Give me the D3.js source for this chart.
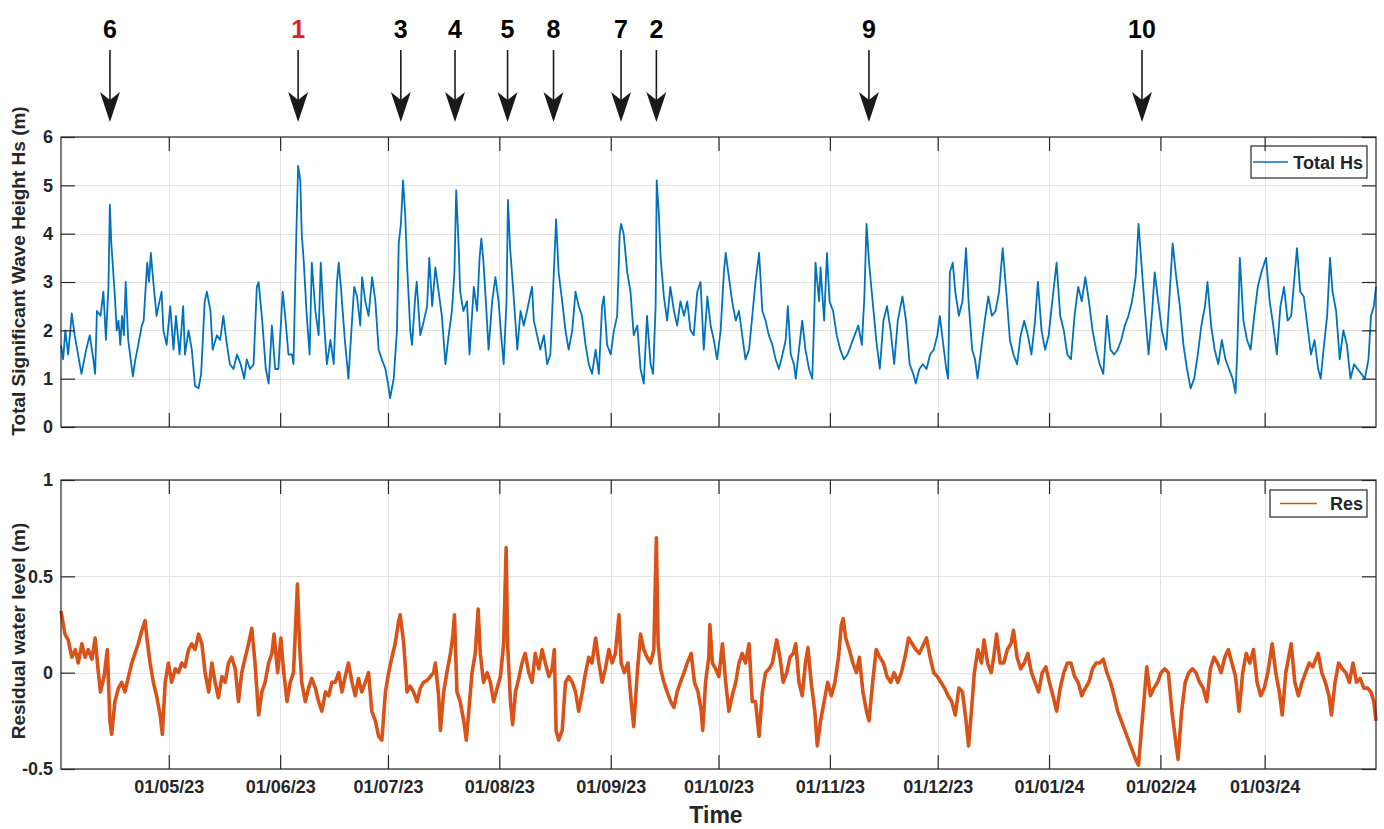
<!DOCTYPE html>
<html>
<head>
<meta charset="utf-8">
<script src="https://cdn.jsdelivr.net/npm/d3@7"></script>
<style>
  html, body { margin: 0; padding: 0; background: #fff; }
  svg { display: block; font-family: 'Liberation Sans', Arial, Helvetica, sans-serif; }
</style>
</head>
<body>
<svg id="chart" width="1384" height="829"></svg>
<script>
// time axis: 1 Apr 2023 -> 1 Apr 2024, points given as day offsets from start
const startDate = new Date(Date.UTC(2023, 3, 1));
const endDate = new Date(Date.UTC(2024, 3, 1));
const monthTicks = ['2023-05-01', '2023-06-01', '2023-07-01', '2023-08-01', '2023-09-01', '2023-10-01',
  '2023-11-01', '2023-12-01', '2024-01-01', '2024-02-01', '2024-03-01'];
const hsTicks = [0, 1, 2, 3, 4, 5, 6];
const resTicks = [-0.5, 0, 0.5, 1];

// storm events marked with arrows
const eventLabels = ['6', '1', '3', '4', '5', '8', '7', '2', '9', '10'];
const eventDates = ['2023-04-14T15:00Z', '2023-06-06T00:00Z', '2023-07-04T14:00Z', '2023-07-19T16:00Z',
  '2023-08-03T07:00Z', '2023-08-16T02:00Z', '2023-09-03T21:00Z', '2023-09-13T17:00Z',
  '2023-11-11T21:00Z', '2024-01-26T21:00Z'];
const highlightEvent = '1';

// [day offset, Hs (m)]
const hsPoints = [
  [0,1.7],[0.6,1.4],[1.2,2.0],[2,1.5],[3,2.35],[3.8,1.9],[4.5,1.6],[5.7,1.1],[7,1.6],[8,1.9],[9,1.4],[9.5,1.1],
  [10,2.4],[11,2.3],[11.8,2.8],[12.5,1.8],[13.2,2.9],[13.6,4.6],[14,3.8],[15,2.7],[15.5,2.0],[16,2.2],[16.5,1.7],
  [17,2.3],[17.5,1.9],[18,3.0],[18.7,1.8],[19.4,1.4],[20,1.05],[20.7,1.4],[21.5,1.7],[22.5,2.1],[23,2.2],[24,3.4],
  [24.5,3.0],[25,3.6],[25.7,3.0],[26.6,2.3],[27.4,2.6],[28,2.8],[28.5,2.0],[29.4,1.7],[30.4,2.5],[31.3,1.6],[32,2.3],
  [33,1.5],[34,2.5],[34.5,1.5],[35.5,2.0],[36.4,1.6],[37.3,0.85],[38.3,0.8],[39,1.1],[40,2.6],[40.6,2.8],[41.6,2.4],
  [42.2,1.6],[43.4,1.9],[44.3,1.8],[45.2,2.3],[46,1.8],[47,1.3],[48,1.2],[49,1.5],[50,1.3],[51,1.0],[51.7,1.4],
  [52.6,1.2],[53.6,1.3],[54.5,2.9],[55,3.0],[56,2.2],[57,1.2],[57.8,0.9],[58.7,2.1],[59.6,1.2],[60.5,1.2],[61.7,2.8],
  [62.4,2.3],[63.3,1.5],[64.3,1.5],[64.7,1.3],[65.5,4.0],[66,5.4],[66.6,5.1],[67,4.0],[67.5,3.5],[68.4,2.3],[69.2,1.5],
  [69.8,3.4],[70.8,2.4],[71.7,1.9],[72.3,3.4],[73,2.4],[74,1.3],[75,1.8],[75.9,1.3],[76.8,3.0],[77.3,3.4],[78,2.8],
  [79,1.8],[80,1.0],[81,2.2],[81.6,2.9],[82.4,2.7],[83.3,2.1],[83.8,3.1],[84.7,2.6],[85.6,2.3],[86.6,3.1],[87.5,2.6],
  [88.4,1.6],[89.3,1.4],[90.3,1.2],[91,0.9],[91.6,0.6],[92.6,1.0],[93.5,2.0],[94,3.8],[94.6,4.2],[95.2,5.1],[95.8,4.4],
  [96.3,3.4],[97.2,2.0],[97.7,1.7],[98.6,2.7],[99,3.0],[100,1.9],[101,2.2],[101.9,2.5],[102.5,3.5],[103.3,2.5],
  [104.2,3.3],[105.1,2.8],[106,2.3],[107,1.3],[107.9,1.9],[108.8,2.4],[109.5,3.2],[110,4.9],[110.7,3.7],[111.1,2.8],
  [112,2.4],[113,2.6],[113.7,1.5],[114.9,2.9],[115.8,2.4],[116.5,3.5],[117,3.9],[117.6,3.4],[118.4,2.4],[119,1.6],
  [120,2.6],[120.9,3.1],[121.8,2.6],[122.5,1.9],[123.2,1.3],[124,2.6],[124.4,4.7],[125,3.7],[126,2.7],[127,1.6],
  [127.9,2.4],[128.8,2.1],[129.7,2.4],[131.1,2.9],[131.6,2.2],[132.5,1.9],[133.4,1.6],[134.4,1.9],[135.3,1.3],
  [136.2,1.5],[137,2.9],[137.8,4.3],[138.5,3.2],[139.5,2.6],[140.4,2.0],[141.3,1.6],[142.3,2.0],[143.2,2.8],[144.1,2.5],
  [145,2.3],[146,1.7],[146.9,1.3],[147.8,1.1],[148.8,1.6],[149.7,1.1],[150.6,2.5],[151.1,2.7],[152,1.7],[153,1.5],
  [153.9,2.0],[154.8,2.3],[155.5,4.0],[155.9,4.2],[156.6,4.0],[157.6,3.2],[158.5,2.8],[159.4,1.9],[160.4,2.1],[161.3,1.2],
  [162.2,0.9],[163.1,2.3],[164.1,1.3],[164.8,1.1],[165.5,2.5],[165.8,5.1],[166.4,4.4],[166.9,3.5],[167.8,2.7],[168.7,2.2],
  [169.6,2.9],[170.6,2.4],[171.5,2.1],[172.4,2.6],[173.4,2.3],[174.3,2.6],[175.2,2.0],[176.1,1.9],[177.1,2.8],[178,3.0],
  [178.9,1.6],[179.9,2.7],[180.8,2.1],[181.7,1.8],[182.6,1.4],[183.6,2.0],[184.5,3.2],[185,3.6],[185.9,3.1],[186.8,2.6],
  [187.8,2.2],[188.7,2.4],[189.6,1.9],[190.5,1.4],[191.5,1.6],[192.4,2.3],[193.3,3.0],[194.3,3.6],[195.2,2.4],[196.1,2.2],
  [197,1.9],[198,1.7],[198.9,1.4],[199.8,1.2],[200.8,1.5],[201.7,1.8],[202.3,2.5],[203.1,1.5],[204,1.3],[204.5,1.0],
  [205.4,1.6],[206.3,2.2],[207.2,1.6],[208.2,1.2],[209.1,1.0],[209.6,2.2],[210,3.4],[211,2.6],[211.4,3.3],[212.4,2.2],
  [213.2,3.6],[213.9,2.6],[214.9,2.4],[215.9,1.9],[216.9,1.6],[217.9,1.4],[218.9,1.5],[219.9,1.7],[220.9,1.9],[221.9,2.1],
  [222.9,1.7],[223.6,2.7],[224.2,4.2],[224.9,3.4],[225.9,2.6],[226.9,1.8],[227.9,1.2],[228.9,2.2],[229.9,2.5],[230.9,2.0],
  [231.9,1.3],[232.9,2.2],[234.2,2.7],[235.2,2.2],[236.2,1.3],[237.2,1.1],[237.9,0.9],[238.9,1.2],[239.9,1.3],[240.9,1.2],
  [241.9,1.5],[242.9,1.6],[243.9,1.9],[244.6,2.3],[245.4,1.8],[246.4,1.2],[246.9,1.0],[247.4,3.2],[248.2,3.4],[248.9,2.8],
  [249.9,2.3],[250.9,2.6],[251.9,3.7],[252.6,2.6],[253.6,1.6],[254.4,1.4],[255.1,1.0],[256.1,1.6],[257.1,2.2],[258.1,2.7],
  [259.1,2.3],[260.1,2.4],[261.1,2.8],[262.1,3.7],[263.1,2.8],[264.1,1.8],[265.1,1.5],[266.1,1.3],[267.1,1.9],[268.1,2.2],
  [269.1,1.9],[270.1,1.5],[271.1,2.2],[271.9,3.0],[272.9,2.0],[273.9,1.6],[274.9,1.9],[275.9,2.6],[277.1,3.4],[278.1,2.3],
  [279.1,2.0],[280.1,1.5],[281.1,1.4],[282.1,2.3],[283.1,2.9],[284.1,2.6],[285.1,3.1],[286.1,2.6],[287.1,2.0],[288.1,1.6],
  [289.1,1.3],[290.1,1.1],[291.1,2.3],[292.1,1.6],[293.1,1.5],[294.1,1.6],[295.1,1.8],[296.1,2.1],[297.1,2.3],[298.1,2.6],
  [299.1,3.1],[299.9,4.2],[300.7,3.4],[301.7,2.4],[302.7,1.5],[303.7,2.4],[304.4,3.2],[305.4,2.6],[306.4,2.0],[307.6,1.6],
  [308.6,2.8],[309.4,3.8],[310.4,3.1],[311.4,2.5],[312.4,1.7],[313.4,1.2],[314.4,0.8],[315.4,1.0],[316.4,1.5],[317.4,2.1],
  [318.4,2.5],[319.1,3.0],[320.1,2.1],[321.1,1.6],[322.1,1.3],[323.1,1.8],[324.1,1.4],[325.1,1.2],[326.1,1.0],[326.9,0.7],
  [327.4,1.6],[328.1,3.5],[329.1,2.2],[330.1,1.8],[331.1,1.6],[332.1,2.3],[333.1,2.9],[334.1,3.2],[335.4,3.5],[336.4,2.6],
  [337.4,2.1],[338.4,1.5],[339.4,2.5],[340.4,2.9],[341.4,2.2],[342.4,2.3],[343.2,3.0],[344,3.7],[344.9,2.8],[345.9,2.7],
  [346.9,2.1],[347.9,1.5],[348.9,1.8],[349.9,1.2],[350.6,1.0],[351.4,1.6],[352.4,2.3],[353.2,3.5],[353.9,2.8],[354.9,2.4],
  [355.9,1.4],[356.9,2.0],[357.9,1.7],[358.9,1.0],[359.9,1.3],[360.9,1.2],[361.9,1.1],[362.9,1.0],[363.9,1.4],[364.6,2.3],
  [365.4,2.5],[366,2.9]
];

// [day offset, residual water level (m)]
const resPoints = [
  [0,0.32],[1.1,0.2],[2,0.17],[3,0.08],[4,0.12],[4.8,0.05],[5.8,0.15],[6.7,0.08],[7.6,0.12],[8.6,0.07],[9.5,0.18],
  [10.4,0.0],[11,-0.1],[12,-0.02],[12.9,0.12],[13.6,-0.25],[14.1,-0.32],[15,-0.15],[16,-0.08],[16.9,-0.05],[17.8,-0.1],
  [18.8,-0.02],[19.7,0.05],[20.6,0.1],[21.5,0.15],[22.5,0.22],[23.4,0.27],[23.9,0.18],[24.8,0.05],[25.7,-0.05],
  [26.6,-0.12],[27.6,-0.22],[28.2,-0.32],[29,-0.05],[29.9,0.05],[30.8,-0.05],[31.8,0.02],[32.7,0.0],[33.6,0.05],
  [34.5,0.03],[35.5,0.12],[36.4,0.15],[37.3,0.12],[38.3,0.2],[39.2,0.15],[40.1,0.0],[41.1,-0.1],[42,0.05],[42.9,-0.05],
  [43.8,-0.13],[44.8,-0.02],[45.7,-0.05],[46.6,0.05],[47.5,0.08],[48.5,0.02],[49.4,-0.15],[50.3,0.0],[51.3,0.08],
  [52.2,0.15],[53.1,0.23],[54,0.05],[55,-0.22],[55.9,-0.1],[56.8,-0.05],[57.8,0.05],[58.7,0.1],[59.3,0.2],[60.3,0.0],
  [61.2,0.18],[61.9,0.02],[62.9,-0.15],[63.8,-0.05],[64.7,0.0],[65.2,0.2],[65.8,0.46],[66.4,0.15],[67,-0.05],[68,-0.15],
  [68.9,-0.08],[69.8,-0.03],[70.8,-0.08],[71.7,-0.15],[72.6,-0.2],[73.6,-0.1],[74.5,-0.12],[75.4,-0.05],[76.3,-0.05],
  [77.3,0.0],[78.2,-0.1],[79.1,-0.02],[80,0.05],[81,-0.05],[81.9,-0.12],[82.8,-0.03],[83.7,-0.1],[84.7,-0.05],[85.6,0.0],
  [86.5,-0.2],[87.5,-0.25],[88.4,-0.33],[89.3,-0.35],[90.3,-0.1],[91.2,0.0],[92.1,0.08],[93,0.15],[94,0.27],[94.4,0.3],
  [95.4,0.15],[96.3,-0.1],[97.2,-0.07],[98.1,-0.1],[99.1,-0.15],[100,-0.08],[100.9,-0.05],[101.9,-0.04],[102.8,-0.02],
  [103.7,0.0],[104.2,0.05],[105.1,-0.12],[105.6,-0.3],[106.5,-0.1],[107.4,0.0],[108.4,0.1],[109.1,0.2],[109.5,0.3],
  [110.2,-0.1],[111.1,-0.15],[112.1,-0.25],[112.8,-0.35],[113.5,-0.2],[114.4,0.0],[115.3,0.1],[116.1,0.33],[116.7,0.1],
  [117.6,-0.05],[118.6,0.0],[119.5,-0.05],[120.4,-0.15],[121.4,-0.08],[122.3,-0.02],[123.2,0.15],[123.9,0.65],[124.3,0.15],
  [125.1,-0.15],[125.7,-0.27],[126.5,-0.1],[127.4,-0.03],[128.3,0.05],[129.2,0.1],[130.2,0.0],[131.1,-0.05],[132,0.1],
  [133,0.02],[133.9,0.12],[134.8,0.05],[135.8,-0.02],[136.7,0.02],[137.3,0.12],[137.8,-0.3],[138.5,-0.35],[139.5,-0.3],
  [140.4,-0.05],[141.3,-0.02],[142.3,-0.05],[143.2,-0.1],[144.1,-0.2],[145.1,-0.1],[146,0.0],[146.9,0.08],[147.8,0.05],
  [148.8,0.18],[149.7,0.05],[150.6,-0.05],[151.5,0.02],[152.5,0.12],[153.4,0.05],[154.3,0.1],[155.3,0.3],[155.9,0.05],
  [156.8,0.0],[157.8,0.05],[158.7,-0.15],[159.4,-0.28],[160.4,0.0],[161.3,0.2],[162.2,0.12],[163.1,0.08],[164.1,0.05],
  [165,0.12],[165.7,0.7],[166.2,0.15],[166.9,0.02],[167.8,-0.05],[168.7,-0.1],[169.7,-0.15],[170.6,-0.18],[171.5,-0.1],
  [172.4,-0.05],[173.4,0.0],[174.3,0.05],[175.4,0.1],[176.3,-0.05],[177.3,-0.1],[178.2,-0.2],[178.6,-0.3],[179.4,-0.05],
  [180.3,0.08],[180.6,0.25],[181.3,0.05],[182.2,0.02],[183.1,-0.02],[184.1,0.15],[185,-0.05],[185.9,-0.2],[186.8,-0.12],
  [187.8,-0.05],[188.7,0.05],[189.6,0.1],[190.5,0.05],[191.5,0.15],[192.4,-0.15],[193.3,-0.15],[194.3,-0.33],[195.2,-0.1],
  [196.1,0.0],[197.1,0.02],[198,0.05],[199.2,0.17],[200.1,0.08],[201,-0.05],[202,0.0],[202.9,0.08],[203.8,0.1],[204.5,0.15],
  [205.4,-0.05],[206.3,-0.12],[207.2,0.05],[207.9,0.13],[208.8,-0.05],[209.8,-0.2],[210.5,-0.38],[211.4,-0.25],
  [212.4,-0.15],[213.4,-0.05],[214.4,-0.12],[215.4,-0.05],[216.4,0.08],[217.2,0.25],[217.7,0.28],[218.4,0.18],[219.4,0.12],
  [220.4,0.05],[221.4,0.0],[222.2,0.08],[223.2,-0.1],[224.2,-0.2],[224.9,-0.25],[225.9,-0.05],[226.9,0.12],[227.9,0.08],
  [228.9,0.05],[229.9,-0.02],[230.9,-0.05],[231.9,0.0],[232.9,-0.05],[233.9,0.0],[234.9,0.08],[235.9,0.18],[236.9,0.15],
  [237.9,0.12],[238.9,0.1],[239.9,0.14],[240.9,0.18],[241.9,0.08],[242.9,0.0],[243.9,-0.02],[244.9,-0.05],[245.9,-0.08],
  [246.9,-0.12],[247.9,-0.15],[248.9,-0.22],[249.9,-0.08],[250.9,-0.1],[251.9,-0.25],[252.6,-0.38],[253.4,-0.2],[254.2,0.0],
  [255.2,0.12],[256.2,0.05],[256.9,0.17],[257.9,0.05],[258.9,0.0],[259.6,0.08],[260.4,0.2],[261.4,0.05],[262.4,0.05],
  [263.4,0.12],[264.4,0.15],[265.1,0.22],[266.1,0.08],[267.1,0.02],[268.1,0.05],[269.1,0.1],[270.1,0.0],[271.1,-0.05],
  [272.1,-0.1],[273.1,0.0],[274.1,0.03],[275.1,-0.05],[276.1,-0.12],[277.1,-0.2],[278.1,-0.08],[279.1,0.0],[280.1,0.05],
  [281.1,0.05],[282.1,-0.02],[283.1,-0.05],[284.1,-0.12],[285.1,-0.08],[286.1,-0.05],[287.1,0.02],[288.1,0.05],[289.1,0.05],
  [290.1,0.07],[291.1,0.0],[292.1,-0.05],[293.1,-0.12],[294.1,-0.2],[295.1,-0.25],[296.1,-0.3],[297.1,-0.35],[298.1,-0.4],
  [299.1,-0.45],[299.9,-0.48],[300.7,-0.3],[301.4,-0.15],[302.2,0.03],[303.2,-0.12],[304.2,-0.08],[305.2,-0.05],[306.2,0.0],
  [307.2,0.02],[308.2,0.0],[309.2,-0.2],[310.2,-0.35],[310.9,-0.45],[311.9,-0.2],[312.9,-0.05],[313.9,0.0],[314.9,0.02],
  [315.9,0.0],[316.9,-0.05],[317.9,-0.08],[318.9,-0.15],[319.9,0.02],[320.9,0.08],[321.9,0.05],[322.9,0.0],[323.9,0.08],
  [324.9,0.12],[325.9,0.05],[326.9,-0.02],[327.9,-0.2],[328.9,0.0],[329.9,0.1],[330.9,0.05],[331.9,0.12],[332.9,-0.05],
  [333.9,-0.12],[334.9,-0.08],[335.9,0.0],[337.1,0.15],[338.1,0.0],[339.1,-0.1],[339.9,-0.22],[340.9,0.0],[341.9,0.1],
  [342.4,0.15],[343.4,-0.05],[344.4,-0.12],[345.4,-0.05],[346.4,0.0],[347.4,0.05],[348.4,0.03],[349.9,0.1],[350.9,0.0],
  [351.9,-0.05],[352.9,-0.12],[353.6,-0.22],[354.6,-0.05],[355.6,0.05],[356.6,0.02],[357.6,0.0],[358.6,-0.05],[359.6,0.05],
  [360.6,-0.05],[361.6,-0.03],[362.6,-0.08],[363.6,-0.08],[364.6,-0.1],[365.4,-0.15],[366,-0.25]
];

const axisColor = '#262626';
const gridColor = '#e2e2e2';
const toDate = d => new Date(startDate.getTime() + d * 864e5);

const svg = d3.select('#chart');
svg.append('rect').attr('width', 1384).attr('height', 829).attr('fill', '#fff');

const plotLeft = 61, plotRight = 1376;
const x = d3.scaleUtc().domain([startDate, endDate]).range([plotLeft, plotRight]);
const monthDates = monthTicks.map(s => new Date(s + 'T00:00:00Z'));

function drawPanel(opts) {
  const y = d3.scaleLinear().domain(opts.yDomain).range([opts.bottom, opts.top]);
  const g = svg.append('g');

  // grid behind data
  const grid = g.append('g').attr('stroke', gridColor).attr('stroke-width', 1);
  grid.selectAll('.vg').data(monthDates).join('line')
    .attr('x1', d => Math.round(x(d)) + 0.5).attr('x2', d => Math.round(x(d)) + 0.5)
    .attr('y1', opts.top).attr('y2', opts.bottom);
  grid.selectAll('.hg').data(opts.ticks).join('line')
    .attr('x1', plotLeft).attr('x2', plotRight)
    .attr('y1', d => Math.round(y(d)) + 0.5).attr('y2', d => Math.round(y(d)) + 0.5);

  // data line
  const line = d3.line()
    .x(d => x(toDate(d[0])))
    .y(d => y(d[1]));
  g.append('path')
    .datum(opts.points)
    .attr('fill', 'none')
    .attr('stroke', opts.color)
    .attr('stroke-width', opts.lineWidth)
    .attr('stroke-linejoin', 'round')
    .attr('d', line);

  // axes, ticks pointing inwards on all four sides
  const bottomAxis = d3.axisBottom(x).tickValues(monthDates).tickSize(-14).tickSizeOuter(0).tickPadding(11)
    .tickFormat(opts.showDates ? d3.utcFormat('%d/%m/%y') : '');
  const topAxis = d3.axisTop(x).tickValues(monthDates).tickSize(-14).tickSizeOuter(0).tickFormat('');
  const leftAxis = d3.axisLeft(y).tickValues(opts.ticks).tickSize(-14).tickSizeOuter(0).tickPadding(8)
    .tickFormat(d => String(d));
  const rightAxis = d3.axisRight(y).tickValues(opts.ticks).tickSize(-14).tickSizeOuter(0).tickFormat('');

  const axes = [
    g.append('g').attr('transform', `translate(0,${opts.bottom})`).call(bottomAxis),
    g.append('g').attr('transform', `translate(0,${opts.top})`).call(topAxis),
    g.append('g').attr('transform', `translate(${plotLeft},0)`).call(leftAxis),
    g.append('g').attr('transform', `translate(${plotRight},0)`).call(rightAxis)
  ];
  axes.forEach(a => {
    a.select('.domain').remove();
    a.selectAll('line').attr('stroke', axisColor).attr('stroke-width', 1.2);
    a.selectAll('text')
      .attr('fill', axisColor)
      .attr('font-size', '18px')
      .attr('font-weight', 'bold')
      .attr('font-family', "'Liberation Sans', Arial, sans-serif");
  });

  // box
  g.append('rect')
    .attr('x', plotLeft).attr('y', opts.top)
    .attr('width', plotRight - plotLeft).attr('height', opts.bottom - opts.top)
    .attr('fill', 'none').attr('stroke', axisColor).attr('stroke-width', 1.2);

  // y label
  g.append('text')
    .attr('transform', `translate(25,${opts.labelY}) rotate(-90)`)
    .attr('text-anchor', 'middle')
    .attr('font-size', '19px')
    .attr('font-weight', 'bold')
    .attr('fill', axisColor)
    .text(opts.yLabel);

  // legend (no background, like the original)
  const lg = opts.legend;
  g.append('rect')
    .attr('x', lg.x).attr('y', lg.y).attr('width', lg.w).attr('height', lg.h)
    .attr('fill', 'none').attr('stroke', axisColor).attr('stroke-width', 1.2);
  g.append('line')
    .attr('x1', lg.x + lg.lineFrom).attr('x2', lg.x + lg.lineTo)
    .attr('y1', lg.y + lg.h / 2).attr('y2', lg.y + lg.h / 2)
    .attr('stroke', opts.color).attr('stroke-width', 1.6);
  g.append('text')
    .attr('x', lg.x + lg.w - 4).attr('y', lg.y + lg.h / 2 + 6.5)
    .attr('text-anchor', 'end')
    .attr('font-size', '18px')
    .attr('font-weight', 'bold')
    .attr('fill', axisColor)
    .text(opts.name);
}

drawPanel({
  top: 137, bottom: 427, yDomain: [0, 6], ticks: hsTicks,
  points: hsPoints, color: '#0072BD', lineWidth: 1.8, showDates: false,
  yLabel: 'Total Significant Wave Height Hs (m)', labelY: 271, name: 'Total Hs',
  legend: { x: 1251, y: 146, w: 116, h: 32, lineFrom: 2, lineTo: 37 }
});

drawPanel({
  top: 480, bottom: 769, yDomain: [-0.5, 1], ticks: resTicks,
  points: resPoints, color: '#D95319', lineWidth: 3.6, showDates: true,
  yLabel: 'Residual water level (m)', labelY: 631, name: 'Res',
  legend: { x: 1270, y: 490, w: 97, h: 27, lineFrom: 10, lineTo: 47 }
});

// x axis title
svg.append('text')
  .attr('x', 716).attr('y', 823)
  .attr('text-anchor', 'middle')
  .attr('font-size', '23px')
  .attr('font-weight', 'bold')
  .attr('fill', axisColor)
  .text('Time');

// event arrows
const events = eventLabels.map((label, i) => ({ label, date: new Date(eventDates[i]) }));
const arrows = svg.append('g').selectAll('g').data(events).join('g')
  .attr('transform', d => `translate(${x(d.date)},0)`);

arrows.append('text')
  .attr('y', 38)
  .attr('text-anchor', 'middle')
  .attr('font-size', '25px')
  .attr('font-weight', 'bold')
  .attr('fill', d => d.label === highlightEvent ? '#e31e24' : '#000')
  .text(d => d.label);

arrows.append('line')
  .attr('y1', 50).attr('y2', 100)
  .attr('stroke', '#1a1a1a').attr('stroke-width', 1.6);

arrows.append('path')
  .attr('d', 'M0,122 L-10,92 L0,100 L10,92 Z')
  .attr('fill', '#1a1a1a');
</script>
</body>
</html>
